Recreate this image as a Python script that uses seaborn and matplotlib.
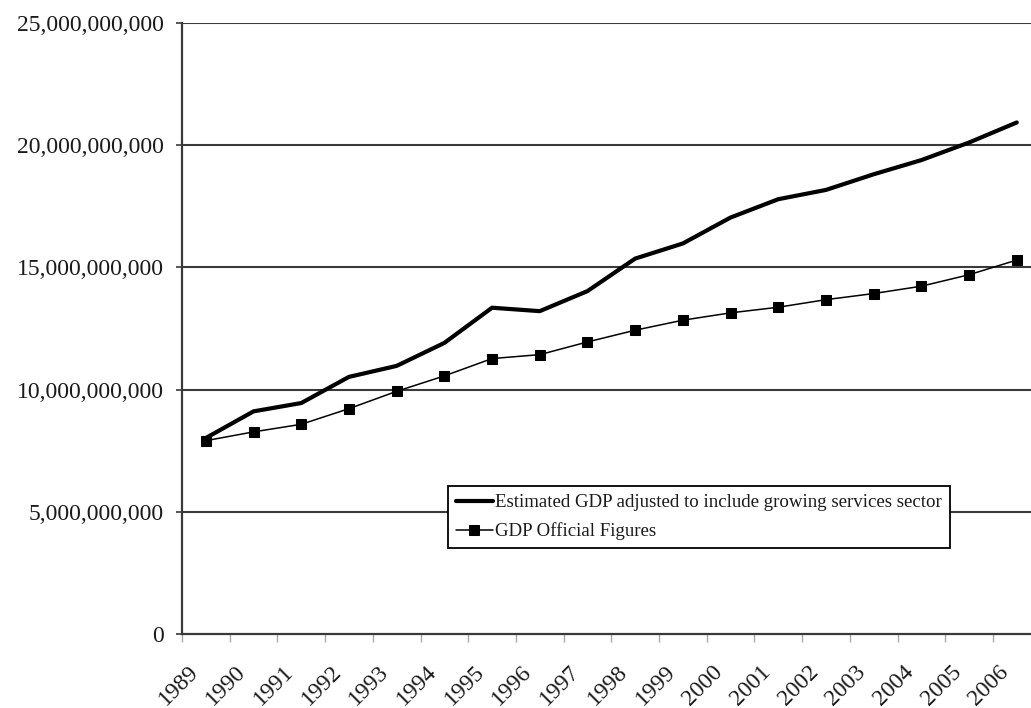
import numpy as np
import pandas as pd
import matplotlib
matplotlib.use("Agg")
import matplotlib.pyplot as plt
import seaborn as sns
from matplotlib.ticker import FuncFormatter, FixedLocator

years = [1989, 1990, 1991, 1992, 1993, 1994, 1995, 1996, 1997,
         1998, 1999, 2000, 2001, 2002, 2003, 2004, 2005, 2006]
estimated = [8.02, 9.11, 9.45, 10.52, 10.97, 11.91, 13.35, 13.21, 14.03,
             15.36, 15.98, 17.04, 17.79, 18.17, 18.81, 19.39, 20.11, 20.93]
official = [7.91, 8.27, 8.58, 9.22, 9.93, 10.56, 11.27, 11.43, 11.95,
            12.43, 12.84, 13.14, 13.37, 13.68, 13.93, 14.23, 14.70, 15.30]
est_label = "Estimated GDP adjusted to include growing services sector"
off_label = "GDP Official Figures"
yticks = [0, 5e9, 10e9, 15e9, 20e9, 25e9]

df_est = pd.DataFrame({"year": years, "gdp": np.array(estimated) * 1e9})
df_off = pd.DataFrame({"year": years, "gdp": np.array(official) * 1e9})

sns.set_theme(style="white")
plt.rcParams["font.family"] = ["Liberation Serif", "DejaVu Serif"]

W, H = 1031, 708
fig = plt.figure(figsize=(W / 100, H / 100), dpi=100)
ax = fig.add_axes([182 / W, (H - 634) / H, (1031 - 182) / W, (634 - 23) / H])

sns.lineplot(data=df_est, x="year", y="gdp", ax=ax, color="black",
             linewidth=3.0, label=est_label)
sns.lineplot(data=df_off, x="year", y="gdp", ax=ax, color="black",
             linewidth=1.1, marker="s", markersize=6.5,
             markeredgecolor="black", label=off_label)

span = (1031 - 182) / 47.7
ax.set_xlim(years[0] - 0.5, years[0] - 0.5 + span)
ax.set_ylim(0, 25e9)

# gridlines
for v in yticks[1:]:
    ax.axhline(v, color="#3a3a3a", linewidth=1.5, zorder=0.5)

ax.yaxis.set_major_locator(FixedLocator(yticks))
ax.yaxis.set_major_formatter(FuncFormatter(lambda v, p: f"{v:,.0f}"))
ax.tick_params(axis="y", which="major", direction="out", length=4,
               width=1.2, color="#3a3a3a", pad=9, labelsize=17,
               labelcolor="#1a1a1a", left=True)

# category boundary ticks and shifted labels
ax.xaxis.set_minor_locator(FixedLocator([y - 0.5 for y in years]))
ax.xaxis.set_major_locator(FixedLocator([y - 0.23 for y in years]))
ax.set_xticklabels([str(y) for y in years])
ax.tick_params(axis="x", which="minor", direction="out", length=6,
               width=1.0, color="#aaaaaa", bottom=True)
ax.tick_params(axis="x", which="major", length=0, pad=25, labelsize=17,
               labelcolor="#1a1a1a")
for lab in ax.get_xticklabels():
    lab.set_rotation(45)
    lab.set_ha("right")
    lab.set_va("center")
    lab.set_rotation_mode("anchor")

ax.set_xlabel("")
ax.set_ylabel("")
ax.grid(False)
for s in ["top", "right"]:
    ax.spines[s].set_visible(False)
for s in ["left", "bottom"]:
    ax.spines[s].set_color("#3a3a3a")
    ax.spines[s].set_linewidth(1.6)

leg = ax.legend(loc="lower left", bbox_to_anchor=(448 / W, (H - 548) / H),
                bbox_transform=fig.transFigure, borderaxespad=0,
                fontsize=13.6, frameon=True, fancybox=False, framealpha=1,
                edgecolor="black", handlelength=2.0, handletextpad=0.1,
                labelspacing=0.6, borderpad=0.4)
leg.get_frame().set_linewidth(1.3)
for t in leg.get_texts():
    t.set_color("#1a1a1a")

fig.savefig("out.png", dpi=100)
